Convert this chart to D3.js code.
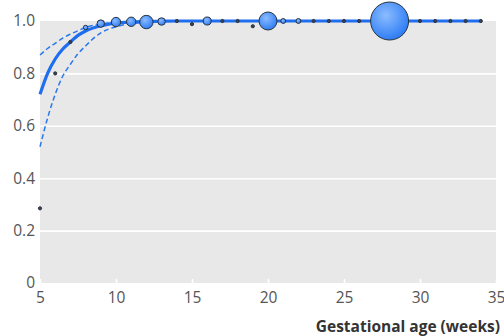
<!DOCTYPE html>
<html>
<head>
<meta charset="utf-8">
<script src="https://cdn.jsdelivr.net/npm/d3@7"></script>
<style>
  html, body { margin: 0; padding: 0; background: #fff; }
  svg { display: block; }
</style>
</head>
<body>
<svg id="chart" width="504" height="336"></svg>
<script>
// Observed proportion per gestational week, with bubble weight (number of pregnancies)
const weeks    = [5, 6, 7, 8, 9, 10, 11, 12, 13, 14, 15, 16, 17, 18, 19, 20, 21, 22, 23, 24, 25, 26, 28, 30, 31, 32, 33, 34];
const observed = [0.285, 0.80, 0.92, 0.975, 0.99, 0.996, 0.997, 0.996, 0.998, 1.0, 0.988, 1.0, 1.0, 1.0, 0.98, 1.0, 1.0, 1.0, 1.0, 1.0, 1.0, 1.0, 1.0, 1.0, 1.0, 1.0, 1.0, 1.0];
const weights  = [2, 2, 2, 5, 14, 22, 22, 45, 14, 2, 2, 16, 2, 2, 2, 81, 6, 6, 2, 2, 2, 2, 360, 2, 2, 2, 2, 2];

// Fitted curve with 95% confidence band
const fitWeeks = [5, 5.5, 6, 6.5, 7, 7.5, 8, 9, 10, 11, 12, 13, 14, 20, 34];
const fitMid   = [0.72, 0.80, 0.855, 0.893, 0.92, 0.945, 0.962, 0.982, 0.992, 0.996, 0.998, 0.999, 1.0, 1.0, 1.0];
const fitUpper = [0.87, 0.895, 0.915, 0.935, 0.95, 0.963, 0.975, 0.988, 0.995, 0.998, 1.0, 1.0, 1.0, 1.0, 1.0];
const fitLower = [0.52, 0.63, 0.72, 0.79, 0.835, 0.875, 0.905, 0.955, 0.978, 0.99, 0.995, 0.998, 1.0, 1.0, 1.0];

const xTicks = [5, 10, 15, 20, 25, 30, 35];
const yTicks = [0, 0.2, 0.4, 0.6, 0.8, 1.0];
const xTitle = "Gestational age (weeks)";

const svg = d3.select("#chart");
const m = { left: 40, top: 21 };

const x = d3.scaleLinear().domain([5, 35]).range([m.left, 496]);
const y = d3.scaleLinear().domain([0, 1]).range([283, m.top]);
const r = d3.scaleSqrt().domain([0, 360]).range([0, 19]);

const font = "'Open Sans', 'DejaVu Sans', sans-serif";

// panel background
svg.append("rect")
  .attr("x", x(5)).attr("y", y(1))
  .attr("width", x(35) - x(5)).attr("height", y(0) - y(1))
  .attr("fill", "#e8e8e8");

// y axis with white grid lines
const yAxis = svg.append("g")
  .attr("transform", `translate(${x(5)},0)`)
  .call(d3.axisLeft(y).tickValues(yTicks)
    .tickSize(-(x(35) - x(5)))
    .tickPadding(5)
    .tickFormat(d => d === 0 ? "0" : d3.format(".1f")(d)));
yAxis.select(".domain").remove();
yAxis.selectAll(".tick line")
  .attr("stroke", d => (d === 0 || d === 1) ? "none" : "#fff")
  .attr("stroke-width", 1.6);
yAxis.selectAll(".tick text")
  .attr("font-family", font).attr("font-size", 15.5).attr("fill", "#555");

// x axis with short inner ticks
const xAxis = svg.append("g")
  .attr("transform", `translate(0,${y(0)})`)
  .call(d3.axisBottom(x).tickValues(xTicks)
    .tickSizeInner(-4).tickSizeOuter(0)
    .tickPadding(9));
xAxis.select(".domain").remove();
xAxis.selectAll(".tick line").attr("stroke", "#fff").attr("stroke-width", 1.6);
xAxis.selectAll(".tick text")
  .attr("font-family", font).attr("font-size", 15.5).attr("fill", "#555");

// axis title
svg.append("text")
  .attr("x", 500).attr("y", 332)
  .attr("text-anchor", "end")
  .attr("font-family", font).attr("font-size", 15.5).attr("font-weight", 700)
  .attr("fill", "#333")
  .text(xTitle);

// gradient for bubbles
const defs = svg.append("defs");
const grad = defs.append("radialGradient").attr("id", "bub")
  .attr("cx", "40%").attr("cy", "35%").attr("r", "65%");
grad.append("stop").attr("offset", "0%").attr("stop-color", "#8cbcff");
grad.append("stop").attr("offset", "100%").attr("stop-color", "#2f7ef5");

// fitted curve and confidence band
const line = d3.line().x(d => x(d[0])).y(d => y(d[1])).curve(d3.curveMonotoneX);
[fitUpper, fitLower].forEach(vals => {
  svg.append("path")
    .datum(fitWeeks.map((w, i) => [w, vals[i]]))
    .attr("d", line)
    .attr("fill", "none").attr("stroke", "#2a78ec")
    .attr("stroke-width", 1.5).attr("stroke-dasharray", "5,3");
});
svg.append("path")
  .datum(fitWeeks.map((w, i) => [w, fitMid[i]]))
  .attr("d", line)
  .attr("fill", "none").attr("stroke", "#1f6ef0")
  .attr("stroke-width", 3.2);

// observed proportions as bubbles
svg.append("g").selectAll("circle")
  .data(weeks.map((w, i) => ({ w, p: observed[i], n: weights[i] })))
  .join("circle")
  .attr("cx", d => x(d.w)).attr("cy", d => y(d.p))
  .attr("r", d => Math.max(1.6, r(d.n)))
  .attr("fill", d => r(d.n) < 2.2 ? "#3a4250" : "url(#bub)")
  .attr("stroke", "#2a3340").attr("stroke-width", 1);
</script>
</body>
</html>
